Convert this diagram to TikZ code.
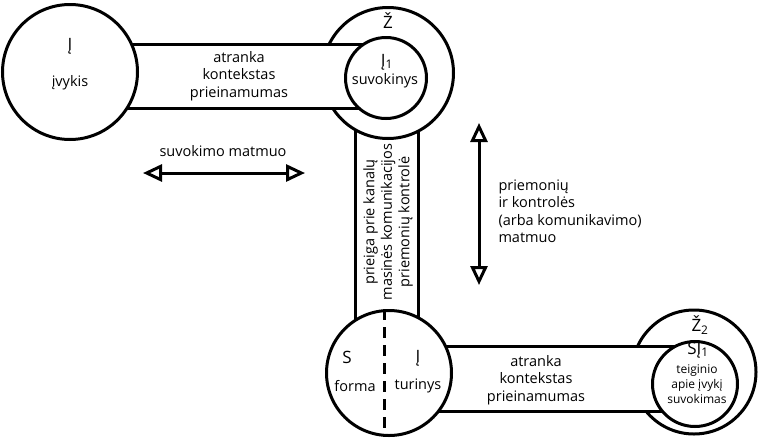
\documentclass[tikz,border=0pt]{standalone}
\usepackage{fontspec}
\setmainfont{Open Sans}
\usetikzlibrary{arrows.meta, positioning}

\begin{document}
\begin{tikzpicture}[x=1pt, y=-1pt, line width=3pt,
      ring/.style={draw, circle, fill=white, inner sep=0pt, minimum size=#1},
      band/.style={fill=white, draw=none},
      lbl/.style={font=\fontsize{14.5}{17.5}\selectfont, align=center, inner sep=0pt},
      sym/.style={font=\fontsize{17}{20}\selectfont, inner sep=0pt},
      dimarrow/.style={{Triangle[open, length=19pt, width=17pt]}-{Triangle[open, length=19pt, width=17pt]}, line width=3pt}]

    \useasboundingbox (0,0) rectangle (758,445);

    % Vertical band (under the rings)
    \path[band] (355,73) rectangle (418,373);
    \draw (355,73) -- (355,373);
    \draw (418,73) -- (418,373);

    % Outer rings
    \node[ring=131pt] (zo)  at (388,73)  {};
    \node[ring=124pt] (zo2) at (694,372) {};

    % Horizontal bands
    \path[band] (70,44) rectangle (386,108);
    \draw (70,44) -- (386,44);
    \draw (70,108) -- (386,108);
    \path[band] (389,346) rectangle (695,411);
    \draw (389,346) -- (695,346);
    \draw (389,411) -- (695,411);

    % Circles on top
    \node[ring=135pt] (ev)  at (70,72)   {};
    \node[ring=125pt] (sf)  at (389,373) {};
    \node[ring=81pt]  (zi)  at (386,78)  {};
    \node[ring=85pt]  (zi2) at (695,384) {};
    \draw[dash pattern=on 11pt off 7pt]
        ([xshift=-5pt]sf.north) -- ([xshift=-5pt]sf.south);

    % Texts
    \node[sym] (evsym)  at (70,46)   {Į};
    \node[lbl] (evtxt)  at (70,83)   {įvykis};
    \node[sym] (zsym)   at (388,21)  {Ž};
    \node[sym] (zisym)  at (387,62)  {Į\textsubscript{1}};
    \node[lbl] (zitxt)  at (385,81)  {suvokinys};
    \node[lbl] (toptxt) at (239,76)  {atranka\\kontekstas\\prieinamumas};
    \node[lbl, rotate=90] (vtxt) at (388,222) {prieiga prie kanalų\\masinės komunikacijos\\priemonių kontrolė};
    \node[sym] (ssym)   at (347,357) {S};
    \node[sym] (tsym)   at (418,358) {Į};
    \node[lbl] (ftxt)   at (355,386) {forma};
    \node[lbl] (ttxt)   at (418,386) {turinys};
    \node[lbl] (bottxt) at (536,380) {atranka\\kontekstas\\prieinamumas};
    \node[sym] (z2sym)  at (700,325) {Ž\textsubscript{2}};
    \node[sym] (sisym)  at (698,350) {SĮ\textsubscript{1}};
    \node[lbl, font=\fontsize{12}{15}\selectfont] (z2txt) at (697,384) {teiginio\\apie įvykį\\suvokimas};

    % Dimension arrows
    \node[lbl] (hdim) at (223,151) {suvokimo matmuo};
    \coordinate (h1) at (143,173);
    \coordinate (h2) at (305,173);
    \draw[dimarrow] (h1) -- (h2);
    \coordinate (v1) at (479,123);
    \coordinate (v2) at (479,285);
    \draw[dimarrow] (v1) -- (v2);
    \node[lbl, align=left, anchor=west] (vdim) at (497,211) {priemonių\\ir kontrolės\\(arba komunikavimo)\\matmuo};

\end{tikzpicture}
\end{document}
